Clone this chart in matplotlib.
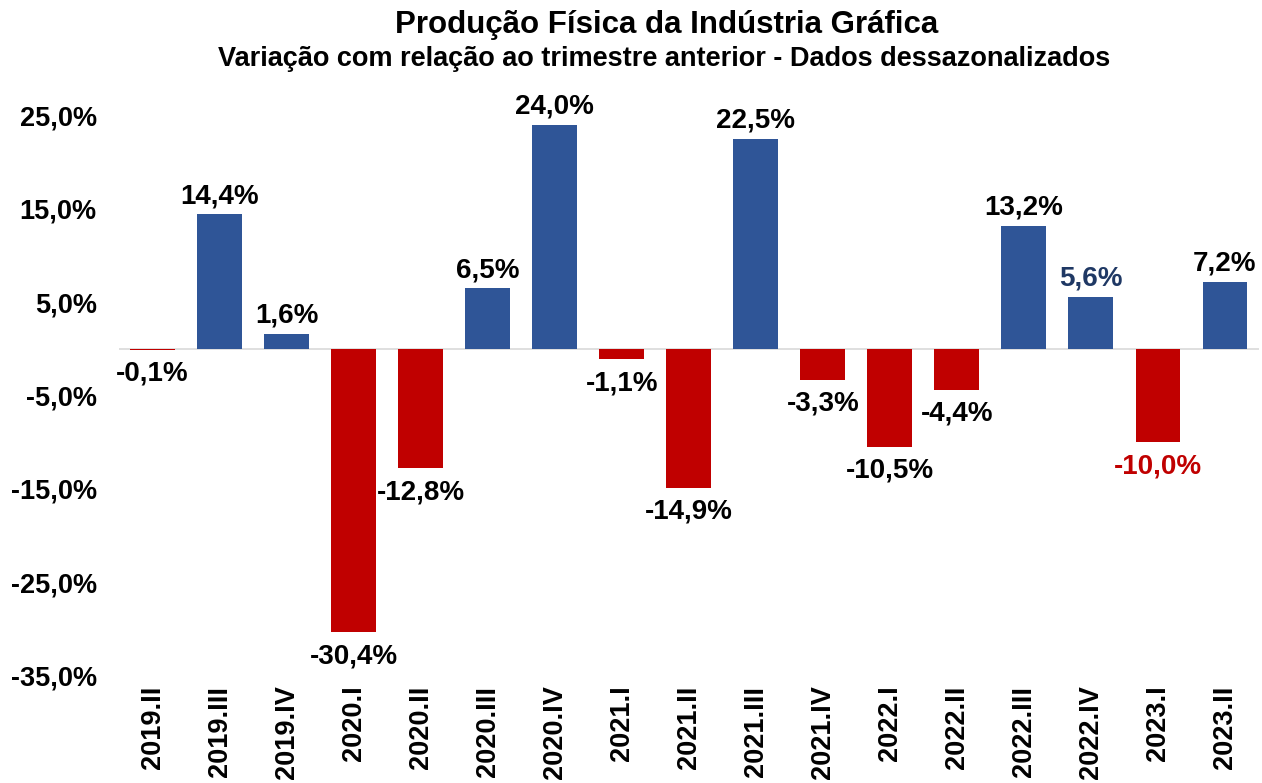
import matplotlib
matplotlib.use("Agg")
import matplotlib.pyplot as plt

quarters = ["2019.II", "2019.III", "2019.IV", "2020.I", "2020.II", "2020.III",
            "2020.IV", "2021.I", "2021.II", "2021.III", "2021.IV", "2022.I",
            "2022.II", "2022.III", "2022.IV", "2023.I", "2023.II"]
variation = [-0.1, 14.4, 1.6, -30.4, -12.8, 6.5, 24.0, -1.1, -14.9, 22.5,
             -3.3, -10.5, -4.4, 13.2, 5.6, -10.0, 7.2]
ytick_vals = [25, 15, 5, -5, -15, -25, -35]

BLUE = "#2F5597"
RED = "#C00000"

plt.rcParams['font.family'] = ['Liberation Sans', 'DejaVu Sans']

fig = plt.figure(figsize=(12.62, 7.83), dpi=100)
ax = fig.add_axes([119/1262, 1 - 680/783, (1258.5-119)/1262, (680-95)/783])

x = list(range(len(quarters)))
colors = [BLUE if v >= 0 else RED for v in variation]
ax.bar(x, variation, width=0.67, color=colors, zorder=2)
ax.axhline(0, color="#D9D9D9", linewidth=1.2, zorder=1)

for i, v in enumerate(variation):
    txt = f"{v:.1f}%".replace(".", ",")
    col = "black"
    if quarters[i] == "2022.IV":
        col = "#1F3864"
    elif quarters[i] == "2023.I":
        col = RED
    if v >= 0:
        ax.annotate(txt, (i, v), xytext=(0, 3.5), textcoords="offset points",
                    ha="center", va="bottom", fontsize=20, fontweight="bold", color=col)
    else:
        ax.annotate(txt, (i, v), xytext=(0, -8), textcoords="offset points",
                    ha="center", va="top", fontsize=20, fontweight="bold", color=col)

ax.set_xlim(-0.5, len(quarters) - 0.5)
ax.set_ylim(-35.5, 27.2)
ax.set_yticks(ytick_vals)
ax.set_yticklabels([f"{v:.1f}%".replace(".", ",") for v in ytick_vals],
                   fontsize=19.5, fontweight="bold")
ax.set_xticks(x)
ax.set_xticklabels(quarters, rotation=90, fontsize=19.5, fontweight="bold", va="top")
ax.tick_params(axis="y", length=0, pad=16)
ax.tick_params(axis="x", length=0, pad=4)
for s in ax.spines.values():
    s.set_visible(False)

fig.text(667/1262, 1 - 25/783, "Produção Física da Indústria Gráfica", ha="center", va="center",
         fontsize=22.5, fontweight="bold")
fig.text(664/1262, 1 - 59/783, "Variação com relação ao trimestre anterior - Dados dessazonalizados",
         ha="center", va="center", fontsize=19.5, fontweight="bold")

fig.savefig("out.png", dpi=100)
